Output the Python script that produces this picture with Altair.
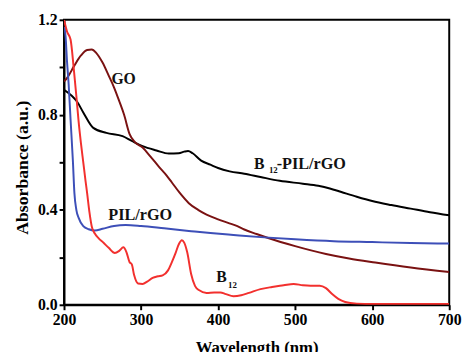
import altair as alt
import pandas as pd

# B12-PIL/rGO (black)
b12pil_x = [200, 210, 217, 225, 238, 255, 276, 288, 302, 320, 336, 349, 356, 361, 367, 378, 390, 400, 415, 434, 455, 480, 510, 530, 545, 560, 580, 600, 625, 650, 675, 700]
b12pil_y = [0.905, 0.88, 0.855, 0.81, 0.745, 0.724, 0.71, 0.69, 0.668, 0.65, 0.637, 0.638, 0.645, 0.648, 0.638, 0.607, 0.59, 0.576, 0.562, 0.552, 0.538, 0.522, 0.51, 0.501, 0.49, 0.475, 0.455, 0.437, 0.42, 0.405, 0.39, 0.377]

# GO (dark red)
go_x = [200, 205, 213, 222, 230, 236, 242, 250, 258, 265, 272, 278, 285, 292, 302, 312, 323, 333, 340, 350, 362, 374, 385, 400, 413, 425, 434, 450, 466, 500, 540, 570, 604, 650, 700]
go_y = [0.94, 0.96, 1.005, 1.05, 1.073, 1.075, 1.06, 1.02, 0.965, 0.915, 0.855, 0.8, 0.72, 0.685, 0.662, 0.625, 0.582, 0.545, 0.515, 0.472, 0.428, 0.4, 0.38, 0.36, 0.345, 0.331, 0.317, 0.298, 0.28, 0.247, 0.214, 0.195, 0.178, 0.157, 0.138]

# PIL/rGO (blue)
pil_x = [200, 202, 204, 206, 208.5, 211.5, 213.5, 216, 219, 225, 232, 240, 250, 265, 280, 300, 330, 365, 390, 420, 460, 500, 550, 600, 650, 700]
pil_y = [1.17, 1.13, 1.02, 0.93, 0.78, 0.607, 0.47, 0.40, 0.366, 0.331, 0.318, 0.313, 0.32, 0.332, 0.336, 0.332, 0.322, 0.31, 0.302, 0.294, 0.284, 0.276, 0.268, 0.264, 0.26, 0.258]

# B12 (red)
b12_x = [200, 204, 208.5, 212.5, 216, 219, 222, 225, 228, 230, 233, 236, 240, 245, 251, 258, 266, 272, 277, 281, 285, 288, 291, 296, 302, 308, 315, 322, 328, 335, 340, 345, 349, 353, 356, 360, 365, 370, 375, 385, 395, 403, 410, 420, 430, 440, 455, 470, 485, 498, 510, 520, 532, 540, 548, 556, 565, 580, 600, 650, 700]
b12_y = [1.2, 1.15, 1.117, 1.0, 0.88, 0.77, 0.68, 0.6, 0.52, 0.47, 0.39, 0.33, 0.3, 0.28, 0.262, 0.24, 0.218, 0.228, 0.242, 0.222, 0.18, 0.17, 0.125, 0.09, 0.088, 0.098, 0.113, 0.12, 0.124, 0.145, 0.18, 0.22, 0.255, 0.272, 0.262, 0.22, 0.13, 0.08, 0.062, 0.05, 0.052, 0.052, 0.045, 0.036, 0.04, 0.05, 0.066, 0.075, 0.082, 0.088, 0.082, 0.08, 0.08, 0.07, 0.045, 0.025, 0.012, 0.005, 0.003, 0.003, 0.003]

series_names = ["B12-PIL/rGO", "GO", "PIL/rGO", "B12"]
series_colors = ["#000000", "#7a1212", "#3d4fb8", "#f2302e"]

# annotation texts
ann_text = ["GO", "PIL/rGO", "B", "12", "-PIL/rGO", "B", "12"]
ann_x = [261.5, 257.5, 446.5, 466.0, 476.0, 397.7, 413.0]
ann_y = [0.931, 0.359, 0.573, 0.557, 0.573, 0.097, 0.072]
ann_size = [16, 16.5, 16, 9, 16.5, 16, 9]

x_ticks = [200, 250, 300, 350, 400, 450, 500, 550, 600, 650, 700]
y_ticks = [0.0, 0.2, 0.4, 0.6, 0.8, 1.0, 1.2]

rows = []
for name, xs, ys in [("B12-PIL/rGO", b12pil_x, b12pil_y), ("GO", go_x, go_y),
                     ("PIL/rGO", pil_x, pil_y), ("B12", b12_x, b12_y)]:
    for i, (xv, yv) in enumerate(zip(xs, ys)):
        rows.append({"series": name, "wl": xv, "abs": yv, "order": i})
df = pd.DataFrame(rows)
ann = pd.DataFrame({"t": ann_text, "x": ann_x, "y": ann_y, "fs": ann_size})

FONT = "'Liberation Serif', 'Times New Roman', serif"

xscale = alt.Scale(domain=[200, 700], nice=False, zero=False)
yscale = alt.Scale(domain=[0, 1.2], nice=False)

lines = alt.Chart(df).mark_line(strokeWidth=2, clip=True, interpolate="monotone").encode(
    x=alt.X("wl:Q", scale=xscale,
            axis=alt.Axis(title="Wavelength (nm)", values=x_ticks, labelFlush=False,
                          labelOverlap=False,
                          labelExpr="datum.value % 100 == 0 ? datum.label : ''")),
    y=alt.Y("abs:Q", scale=yscale,
            axis=alt.Axis(title="Absorbance (a.u.)", values=y_ticks, format=".1f",
                          labelFlush=False, labelOverlap=False, titleY=150,
                          labelExpr="round(datum.value*10) % 4 == 0 ? datum.label : ''")),
    color=alt.Color("series:N", scale=alt.Scale(domain=series_names, range=series_colors), legend=None),
    order="order:Q",
    detail="series:N",
)

texts = alt.Chart(ann).mark_text(font=FONT, fontWeight="bold", align="left", baseline="alphabetic",
                                 color="#111111").encode(
    x=alt.X("x:Q", scale=xscale),
    y=alt.Y("y:Q", scale=yscale),
    text="t:N",
    size=alt.Size("fs:Q", scale=None, legend=None),
)

chart = (lines + texts).properties(
    width=392, height=290,
    autosize=alt.AutoSizeParams(type="none"),
    padding={"left": 57, "top": 9, "right": 13, "bottom": 45},
).configure_view(
    stroke="black", strokeWidth=2
).configure_axis(
    grid=False,
    domainColor="black", domainWidth=2,
    tickColor="black", tickWidth=2, tickSize=5,
    labelFont=FONT, labelFontWeight="bold", labelFontSize=16, labelColor="black",
    labelPadding=2,
    titleFont=FONT, titleFontWeight="bold", titleFontSize=17, titleColor="black",
).configure_axisX(
    titlePadding=13,
).configure_axisY(
    titleFontSize=18, titlePadding=6,
)

chart.save("out.html", embed_options={"renderer": "svg", "actions": False})
